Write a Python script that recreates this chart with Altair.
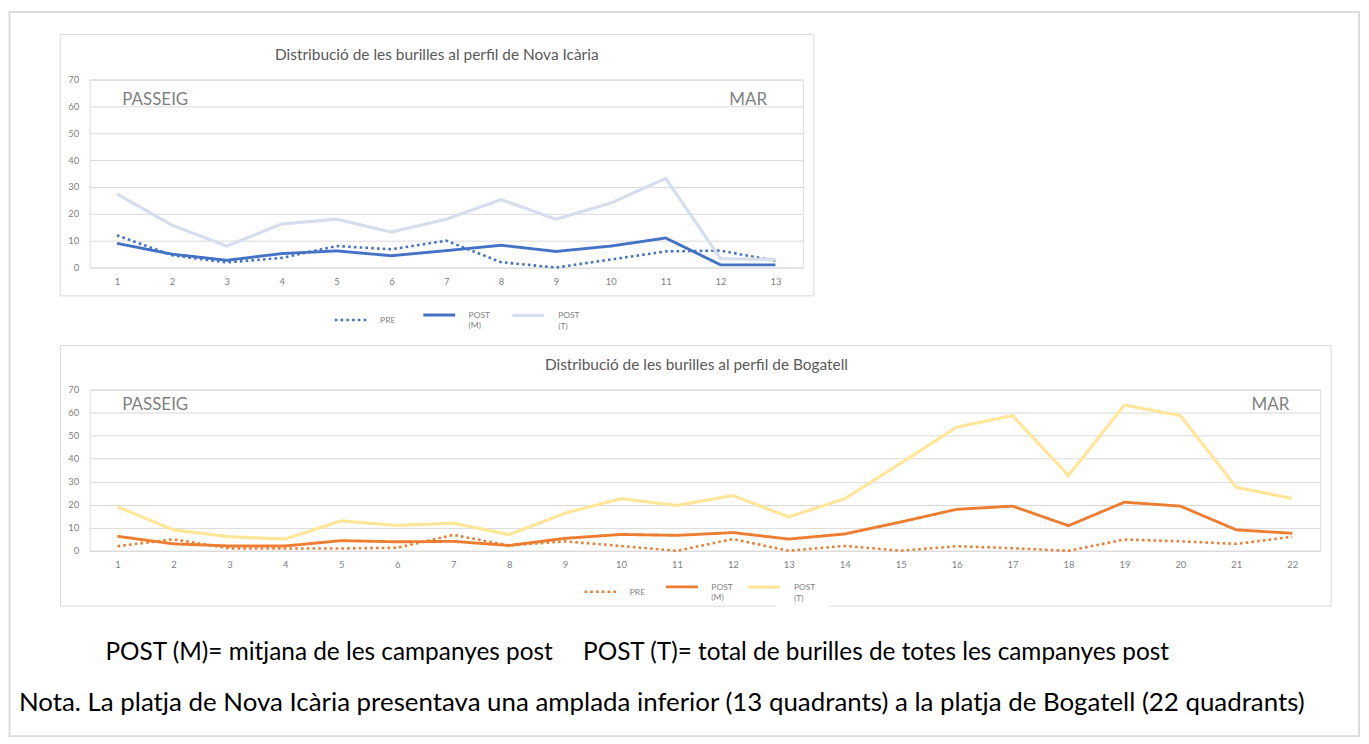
import altair as alt
import pandas as pd

# ---------------- data ----------------
series = ["PRE", "POST (M)", "POST (T)"]

quad_ni = list(range(1, 14))
pre_ni = [12, 4.6, 1.9, 3.6, 8, 6.8, 10, 2, 0, 3, 6, 6.3, 2.5]
postm_ni = [9, 5, 2.7, 5.2, 6.2, 4.4, 6.3, 8.3, 6, 8, 11, 1, 1]
postt_ni = [27.4, 15.8, 8, 16.2, 18, 13.2, 18, 25.3, 18, 24, 33.2, 3.3, 3]

quad_bg = list(range(1, 23))
pre_bg = [2, 5, 1, 1, 1, 1.3, 6.9, 2.3, 4.1, 2.1, 0, 5.1, 0, 2.1, 0, 2, 1.1, 0, 4.9, 4.1, 3, 6.1]
postm_bg = [6.3, 3, 2.1, 2.1, 4.4, 3.9, 4.1, 2.3, 5.4, 7.1, 6.7, 7.9, 5.1, 7.3, 12.5, 18, 19.4, 10.9, 21.1, 19.4, 9.1, 7.6]
postt_bg = [19.1, 9.1, 6.1, 5.1, 13, 11, 12, 7, 16.3, 22.6, 19.7, 24, 14.7, 22.6, 38, 53.7, 58.7, 32.7, 63.3, 58.7, 27.6, 22.7]

title_ni = "Distribució de les burilles al perfil de Nova Icària"
title_bg = "Distribució de les burilles al perfil de Bogatell"
end_labels = ["PASSEIG", "MAR"]
note_m = "POST (M)= mitjana de les campanyes post"
note_t = "POST (T)= total de burilles de totes les campanyes post"
note_nota = ("Nota. La platja de Nova Icària presentava una amplada inferior "
             "(13 quadrants) a la platja de Bogatell (22 quadrants)")

FONT = "Lato"
GRID = "#d9d9d9"
LBL = "#7f7f7f"


def long_df(quads, vals_list):
    rows = []
    for name, vals in zip(series, vals_list):
        for q, v in zip(quads, vals):
            rows.append({"quadrant": q, "value": v, "serie": name})
    return pd.DataFrame(rows)


def one(text=""):
    return alt.Chart(pd.DataFrame({"t": [text]}))


def txt(text, x, y, size, color, align="center", weight="normal"):
    return one(text).mark_text(
        font=FONT, fontSize=size, color=color, align=align, baseline="middle",
        fontWeight=weight
    ).encode(text="t:N", x=alt.value(x), y=alt.value(y))


def box(x, x2, y, y2, color=GRID, width=1):
    return one().mark_rect(fillOpacity=0, stroke=color, strokeWidth=width).encode(
        x=alt.value(x), x2=alt.value(x2), y=alt.value(y), y2=alt.value(y2)
    )


def white(x, x2, y, y2):
    return one().mark_rect(fill="white", strokeWidth=0).encode(
        x=alt.value(x), x2=alt.value(x2), y=alt.value(y), y2=alt.value(y2)
    )


def lines(df, colors, W, H, lx, ly, colpad):
    leg = alt.Legend(
        orient="none", legendX=lx, legendY=ly, direction="horizontal", title=None,
        symbolType="stroke", symbolSize=1024, labelFont=FONT, labelFontSize=8.5,
        labelColor=LBL, labelOffset=12, columnPadding=colpad, gridAlign="all",
        labelExpr="datum.label == 'PRE' ? 'PRE' : split(datum.label, ' ')",
        labelLimit=200,
    )
    return alt.Chart(df).mark_line(strokeCap="butt").encode(
        x=alt.X("quadrant:O", scale=alt.Scale(type="point", padding=0.5),
                axis=alt.Axis(title=None, labelAngle=0, ticks=False, tickSize=0,
                              domain=False, grid=False, labelPadding=9,
                              labelFont=FONT, labelFontSize=9.5, labelColor=LBL)),
        y=alt.Y("value:Q", scale=alt.Scale(domain=[0, 70], nice=False, zero=True),
                axis=alt.Axis(title=None, values=list(range(0, 71, 10)), ticks=False,
                              tickSize=0, domain=False, grid=True, gridColor=GRID,
                              gridWidth=1, labelPadding=11, labelFont=FONT,
                              labelFontSize=9.5, labelColor=LBL)),
        stroke=alt.Stroke("serie:N", scale=alt.Scale(domain=series, range=colors), legend=leg),
        strokeDash=alt.StrokeDash("serie:N",
                                  scale=alt.Scale(domain=series, range=[[2.6, 3.2], [1, 0], [1, 0]]),
                                  legend=leg),
        strokeWidth=alt.StrokeWidth("serie:N",
                                    scale=alt.Scale(domain=series, range=[2.6, 3.2, 2.6]),
                                    legend=leg),
        order=alt.Order("serie:N"),
    ).properties(width=W, height=H)


# ---------------- top chart (Nova Icària) ----------------
W1, H1 = 717, 189
df_ni = long_df(quad_ni, [pre_ni, postm_ni, postt_ni])
top = alt.layer(
    box(-80.5, 1276, -67.8, 660, color="#dcdcdc", width=2),
    box(-29.5, 728, -45.3, 217.4),
    lines(df_ni, ["#4472c4", "#4472c4", "#d6ddec"], W1, H1, 245, 219, 14),
    txt(title_ni, 349, -24.3, 15.5, "#595959"),
    txt(end_labels[0], 66, 21, 17, "#7f7f7f"),
    txt(end_labels[1], 662, 21, 17, "#7f7f7f"),
).properties(width=W1, height=H1)

# ---------------- bottom chart (Bogatell) ----------------
W2, H2 = 1237, 162
df_bg = long_df(quad_bg, [pre_bg, postm_bg, postt_bg])
bottom = alt.layer(
    box(-29.3, 1248, -44.3, 217.7),
    white(690, 743, 211, 224),
    lines(df_bg, ["#ed7d31", "#ed7d31", "#ffe699"], W2, H2, 496, 180.5, 7),
    txt(title_bg, 610, -24.3, 15.5, "#595959"),
    txt(end_labels[0], 66, 15, 17, "#7f7f7f"),
    txt(end_labels[1], 1187, 15, 17, "#7f7f7f"),
    txt(note_m, 16, 265, 24.5, "#000000", align="left"),
    txt(note_t, 496, 265, 24.5, "#000000", align="left"),
    txt(note_nota, -71, 315, 26, "#000000", align="left"),
).properties(width=W2, height=H2)

chart = alt.vconcat(top, bottom, spacing=122.7, bounds="flush", padding=0).resolve_scale(
    x="independent", y="independent", stroke="independent",
    strokeDash="independent", strokeWidth="independent"
).resolve_legend(stroke="independent", strokeDash="independent",
                 strokeWidth="independent").configure_view(strokeWidth=0).configure(
    font=FONT
)

chart.save("out.html", embed_options={"renderer": "svg", "actions": False})
